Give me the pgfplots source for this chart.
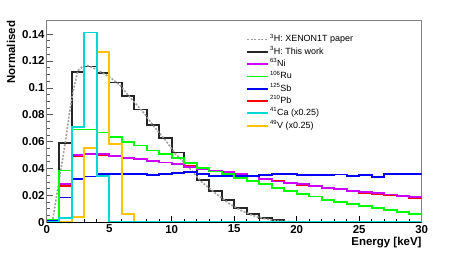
\documentclass[border=0pt]{standalone}
\usepackage{fontspec}
\setmainfont{Liberation Sans}
\usepackage{pgfplots}
\pgfplotsset{compat=1.18}
\definecolor{rootmag}{RGB}{204,0,255}
\definecolor{rootgreen}{RGB}{0,255,0}
\definecolor{rootblue}{RGB}{0,0,255}
\definecolor{rootred}{RGB}{255,0,0}
\definecolor{rootcyan}{RGB}{0,215,215}
\definecolor{rootyellow}{RGB}{255,195,0}
\begin{document}
\begin{tikzpicture}[x=1bp,y=1bp]
\path[use as bounding box] (0,0) rectangle (469,252);
\begin{axis}[
  at={(46.7bp,29.7bp)}, anchor=south west,
  scale only axis, width=375bp, height=201.6bp,
  xmin=0, xmax=30, ymin=0, ymax=0.15,
  xtick={0,5,...,30}, minor x tick num=4,
  ytick={0,0.02,0.04,0.06,0.08,0.1,0.12,0.14}, minor y tick num=3,
  xtick pos=bottom, ytick pos=left, tick align=inside,
  major tick length=6bp, minor tick length=3bp,
  axis line style={draw=gray, line width=0.9bp},
  xtick style={black, line width=0.8bp},
  ytick style={gray!70!black, line width=0.8bp},
  /pgf/number format/assume math mode=true,
  yticklabel style={/pgf/number format/fixed, /pgf/number format/precision=2, font=\bfseries\fontsize{11.5}{12}\selectfont, anchor=east, inner sep=0pt, xshift=-2bp},
  xticklabel style={font=\bfseries\fontsize{11.5}{12}\selectfont, anchor=north, inner sep=0pt, yshift=-2.5bp},
  scaled y ticks=false,
  xlabel={Energy [keV]}, ylabel={Normalised},
  xlabel style={at={(axis description cs:1,-0.1151)}, anchor=base east, inner sep=0pt, font=\bfseries\fontsize{11.5}{12}\selectfont},
  ylabel style={at={(axis description cs:-0.0845,1)}, anchor=base east, inner sep=0pt, font=\bfseries\fontsize{11.5}{12}\selectfont},
  legend style={at={(axis description cs:0.523,0.945)}, anchor=north west, draw=none, fill=none,
    font=\fontsize{9}{10}\selectfont, row sep=1.3bp,
    nodes={inner sep=1bp, text height=7bp, text depth=2bp}},
  legend cell align=left,
  legend image code/.code={\draw[#1] (0bp,0bp) -- (21bp,0bp);},
]
\addlegendimage{gray!75, dash pattern=on 2bp off 1.5bp, line width=1.6bp}
\addlegendentry{\textsuperscript{3}H: XENON1T paper}
\addlegendimage{black!85, line width=1.7bp}
\addlegendentry{\textsuperscript{3}H: This work}
\addlegendimage{rootmag, line width=1.7bp}
\addlegendentry{\textsuperscript{63}Ni}
\addlegendimage{rootgreen, line width=1.7bp}
\addlegendentry{\textsuperscript{106}Ru}
\addlegendimage{rootblue, line width=1.7bp}
\addlegendentry{\textsuperscript{125}Sb}
\addlegendimage{rootred, line width=1.7bp}
\addlegendentry{\textsuperscript{210}Pb}
\addlegendimage{rootcyan, line width=1.7bp}
\addlegendentry{\textsuperscript{41}Ca (x0.25)}
\addlegendimage{rootyellow, line width=2bp}
\addlegendentry{\textsuperscript{49}V (x0.25)}
% 3H This work
\addplot[forget plot, const plot, black!85, line width=1.7bp] coordinates {
(0,0.002) (1,0.059) (2,0.112) (3,0.116) (4,0.111) (5,0.104) (6,0.094) (7,0.084) (8,0.0725) (9,0.0625) (10,0.052) (11,0.0414) (12,0.0315) (13,0.0233) (14,0.0166) (15,0.0104) (16,0.0062) (17,0.003) (18,0.0015) (19,0.0007) (20,0.0002) (21,0.0002) (22,0.0001) (23,0.0001) (24,0) (25,0) (26,0) (27,0) (28,0) (29,0) (30,0)};
% XENON1T paper
\addplot[forget plot, gray!75, dash pattern=on 2bp off 1.5bp, line width=1.6bp] coordinates {
(0.45,0) (0.8,0.02) (1.15,0.04) (1.5,0.06) (1.8,0.08) (2.1,0.097) (2.5,0.113) (2.9,0.116) (3.3,0.1165) (3.7,0.115) (4.3,0.112) (5.1,0.1077) (5.9,0.1017) (6.5,0.0948) (7.2,0.0874) (7.8,0.081) (8.6,0.071) (9.5,0.061) (10.3,0.051) (11.35,0.041) (12.4,0.030) (13.5,0.0216) (14.6,0.014) (15.5,0.009) (16.5,0.005) (17.5,0.0025) (18.5,0.001) (20,0.0003) (30,0)};
% 210Pb
\addplot[forget plot, const plot, rootred, line width=1.7bp] coordinates {
(0,0.001) (1,0.0268) (2,0.049) (3,0.0505) (4,0.050) (5,0.049) (6,0.048) (7,0.0468) (8,0.0455) (9,0.0445) (10,0.0435) (11,0.042) (12,0.040) (13,0.0385) (14,0.037) (15,0.036) (16,0.0343) (17,0.032) (18,0.0305) (19,0.0293) (20,0.028) (21,0.0268) (22,0.0252) (23,0.0243) (24,0.023) (25,0.022) (26,0.021) (27,0.020) (28,0.0191) (29,0.0179) (30,0.0179)};
% 63Ni
\addplot[forget plot, const plot, rootmag, line width=1.7bp] coordinates {
(0,0.0015) (1,0.0283) (2,0.050) (3,0.051) (4,0.0506) (5,0.0494) (6,0.0481) (7,0.0469) (8,0.0454) (9,0.0444) (10,0.0432) (11,0.0414) (12,0.0395) (13,0.0382) (14,0.0372) (15,0.0362) (16,0.0345) (17,0.0322) (18,0.0303) (19,0.0295) (20,0.0283) (21,0.0271) (22,0.0253) (23,0.0246) (24,0.0233) (25,0.0223) (26,0.0216) (27,0.0206) (28,0.0196) (29,0.0189) (30,0.0189)};
% 125Sb
\addplot[forget plot, const plot, rootblue, line width=1.7bp] coordinates {
(0,0.001) (1,0.0184) (2,0.032) (3,0.034) (4,0.0357) (5,0.0357) (6,0.0357) (7,0.0357) (8,0.0352) (9,0.0357) (10,0.0365) (11,0.0372) (12,0.0357) (13,0.0347) (14,0.0345) (15,0.0345) (16,0.0345) (17,0.0352) (18,0.0357) (19,0.0362) (20,0.0352) (21,0.0352) (22,0.0352) (23,0.0355) (24,0.0342) (25,0.0352) (26,0.0335) (27,0.0357) (28,0.0362) (29,0.0357) (30,0.0357)};
% 106Ru
\addplot[forget plot, const plot, rootgreen, line width=1.7bp] coordinates {
(0,0.002) (1,0.0385) (2,0.069) (3,0.069) (4,0.0668) (5,0.0633) (6,0.0596) (7,0.0571) (8,0.0534) (9,0.0506) (10,0.0477) (11,0.0439) (12,0.0402) (13,0.0377) (14,0.0357) (15,0.033) (16,0.0308) (17,0.0283) (18,0.0253) (19,0.0233) (20,0.0211) (21,0.0191) (22,0.0166) (23,0.0151) (24,0.0134) (25,0.0122) (26,0.0104) (27,0.0092) (28,0.0077) (29,0.0062) (30,0.0062)};
% 49V
\addplot[forget plot, const plot, rootyellow, line width=1.9bp] coordinates {
(0,0) (1,0.0005) (2,0.0042) (3,0.0556) (4,0.1266) (5,0.058) (6,0.006) (7,0) (8,0) (9,0) (10,0) (11,0) (12,0) (13,0) (14,0) (15,0) (16,0) (17,0) (18,0) (19,0) (20,0) (21,0) (22,0) (23,0) (24,0) (25,0) (26,0) (27,0) (28,0) (29,0) (30,0)};
% 41Ca
\addplot[forget plot, const plot, rootcyan, line width=1.7bp] coordinates {
(0,0.0005) (1,0.003) (2,0.0707) (3,0.1412) (4,0.0347) (5,0.0005) (6,0) (7,0) (8,0) (9,0) (10,0) (11,0) (12,0) (13,0) (14,0) (15,0) (16,0) (17,0) (18,0) (19,0) (20,0) (21,0) (22,0) (23,0) (24,0) (25,0) (26,0) (27,0) (28,0) (29,0) (30,0)};
\draw[black, line width=0.9bp] (rel axis cs:0,0) -- (rel axis cs:1,0);
\end{axis}
\end{tikzpicture}
\end{document}
